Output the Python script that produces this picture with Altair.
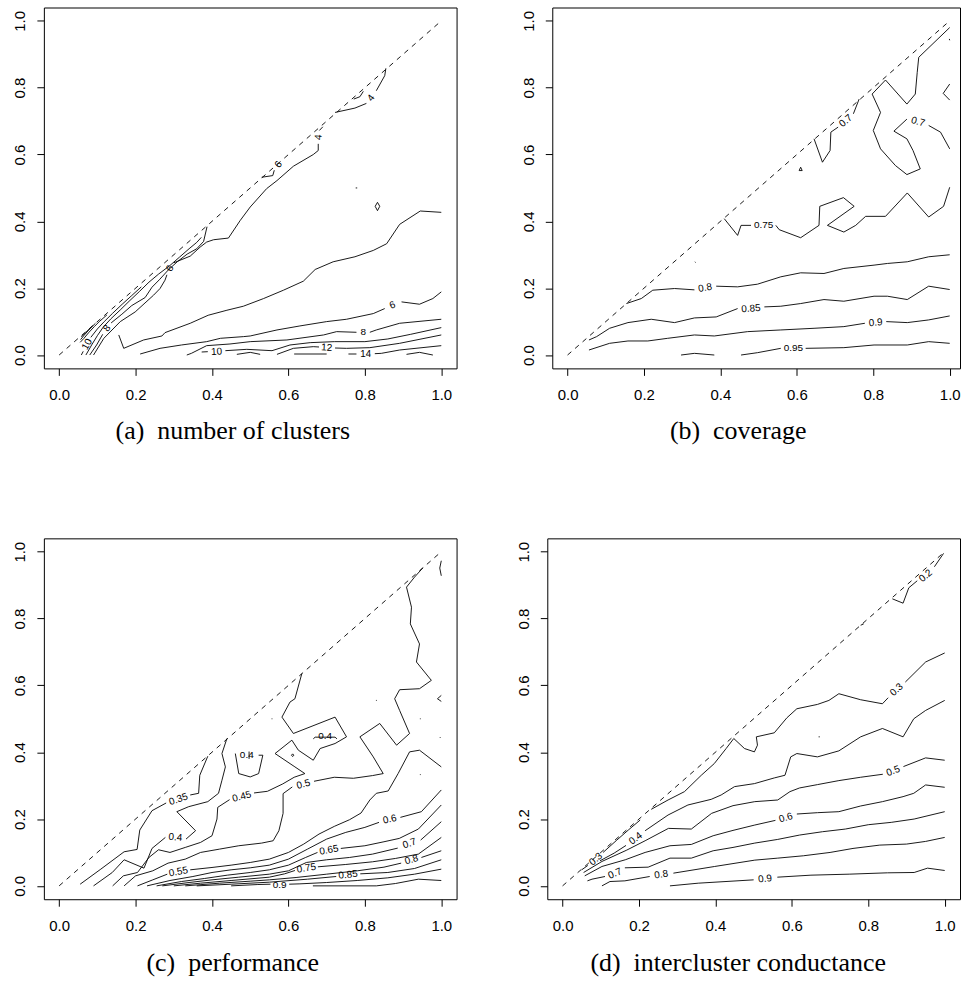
import math
import altair as alt
import pandas as pd

# ---------------- data ----------------
TICKS = [0.0, 0.2, 0.4, 0.6, 0.8, 1.0]

CAPTIONS = ["(a)\u2002number of clusters", "(b)\u2002coverage",
            "(c)\u2002performance", "(d)\u2002intercluster conductance"]

# each contour line: list of (x, y) points; a ("label", x, y) item marks an inline label
A_LINES = [
    [(0.090, 0.0), (0.117, 0.050), (0.160, 0.100), (0.199, 0.129), (0.247, 0.179), (0.264, 0.199),
     (0.277, 0.224), (0.282, 0.240), ("6", 0.290, 0.259), (0.300, 0.276), (0.343, 0.296), (0.369, 0.323),
     (0.386, 0.338), (0.404, 0.345), (0.443, 0.350), (0.474, 0.403), (0.5, 0.443), (0.543, 0.498),
     (0.570, 0.522), (0.613, 0.565), (0.665, 0.600), (0.678, 0.612), (0.678, 0.632), ("4", 0.679, 0.652),
     (0.681, 0.672), (0.690, 0.683)],
    [(0.722, 0.726), (0.774, 0.739), (0.804, 0.753), ("4", 0.816, 0.769), (0.830, 0.791), (0.852, 0.836),
     (0.855, 0.858)],
    [(0.771, 0.766), (0.787, 0.773), (0.796, 0.789)],
    [(0.530, 0.532), (0.559, 0.537), (0.563, 0.553), ("6", 0.574, 0.570)],
    [(0.776, 0.500), (0.780, 0.500)],
    [(0.827, 0.445), (0.833, 0.457), (0.839, 0.445), (0.833, 0.432), (0.827, 0.445)],
    [(0.080, 0.0), (0.098, 0.030), (0.114, 0.062), ("8", 0.125, 0.080), (0.136, 0.096), (0.164, 0.122),
     (0.190, 0.148), (0.225, 0.172), (0.243, 0.203), (0.262, 0.225), (0.286, 0.255), (0.310, 0.280),
     (0.335, 0.302), (0.360, 0.318), (0.378, 0.340), (0.387, 0.384)],
    [(0.070, 0.0), (0.085, 0.030), (0.100, 0.058), (0.115, 0.083), (0.135, 0.108), (0.160, 0.135),
     (0.185, 0.163), (0.210, 0.190), (0.235, 0.218), (0.260, 0.242), (0.290, 0.268), (0.315, 0.293),
     (0.340, 0.318), (0.360, 0.337), (0.372, 0.352)],
    [(0.058, 0.0), (0.063, 0.011), ("10", 0.073, 0.032), (0.083, 0.053), (0.100, 0.078), (0.118, 0.100),
     (0.140, 0.125), (0.165, 0.152), (0.190, 0.178), (0.215, 0.204)],
    [(0.055, 0.038), (0.065, 0.050), (0.078, 0.068), (0.092, 0.085), (0.105, 0.100), (0.125, 0.120)],
    [(0.056, 0.046), (0.066, 0.060), (0.080, 0.078), (0.095, 0.095)],
    [(0.058, 0.054), (0.070, 0.068), (0.085, 0.085)],
    [(0.156, 0.060), (0.169, 0.020), (0.221, 0.045), (0.269, 0.057), (0.277, 0.067), (0.343, 0.095),
     (0.390, 0.119), (0.439, 0.134), (0.482, 0.146), (0.535, 0.169), (0.587, 0.194), (0.639, 0.221),
     (0.670, 0.256), (0.717, 0.279), (0.774, 0.294), (0.822, 0.313), (0.857, 0.333), (0.891, 0.391),
     (0.945, 0.431), (1.0, 0.427)],
    [(0.212, 0.003), (0.264, 0.020), (0.320, 0.030), (0.386, 0.040), (0.422, 0.050), (0.482, 0.055),
     (0.5, 0.057), (0.570, 0.075), (0.630, 0.087), (0.700, 0.100), (0.752, 0.107), (0.822, 0.124),
     (0.852, 0.139), ("6", 0.872, 0.149), (0.896, 0.159), (0.943, 0.152), (0.978, 0.169), (1.0, 0.189)],
    [(0.334, 0.0), (0.346, 0.005), (0.386, 0.028), (0.447, 0.033), (0.5, 0.040), (0.596, 0.045),
     (0.692, 0.060), (0.726, 0.070), (0.778, 0.068), ("8", 0.796, 0.068), (0.813, 0.068), (0.830, 0.075),
     (0.891, 0.095), (1.0, 0.107)],
    [(0.373, 0.009), (0.389, 0.010), ("10", 0.412, 0.010), (0.435, 0.013), (0.491, 0.017), (0.557, 0.013),
     (0.604, 0.030), (0.657, 0.037), (0.720, 0.040), (0.800, 0.040), (0.860, 0.048), (0.920, 0.062),
     (1.0, 0.082)],
    [(0.570, 0.002), (0.613, 0.020), (0.665, 0.025), (0.680, 0.024), ("12", 0.700, 0.022), (0.722, 0.021),
     (0.752, 0.020), (0.813, 0.022), (0.891, 0.035), (1.0, 0.060)],
    [(0.757, 0.003), (0.778, 0.003), ("14", 0.802, 0.003), (0.826, 0.004), (0.843, 0.005), (0.891, 0.015),
     (1.0, 0.028)],
    [(0.465, 0.002), (0.5, 0.008), (0.526, 0.002)],
    [(0.615, 0.003), (0.700, 0.003)],
    [(0.909, 0.002), (0.943, 0.008), (0.978, 0.0)],
]

B_LINES = [
    [(0.297, 0.0), (0.332, 0.005), (0.384, 0.0)],
    [(0.454, 0.0), (0.497, 0.007), (0.558, 0.020), ("0.95", 0.591, 0.020), (0.623, 0.020), (0.723, 0.022),
     (0.802, 0.030), (0.889, 0.030), (0.945, 0.040), (1.0, 0.035)],
    [(0.056, 0.015), (0.110, 0.035), (0.158, 0.042), (0.210, 0.042), (0.262, 0.050), (0.332, 0.060),
     (0.384, 0.057), (0.471, 0.070), (0.558, 0.075), (0.645, 0.080), (0.723, 0.085), (0.778, 0.095),
     ("0.9", 0.806, 0.097), (0.834, 0.100), (0.889, 0.097), (0.945, 0.105), (1.0, 0.117)],
    [(0.056, 0.045), (0.076, 0.055), (0.110, 0.080), (0.158, 0.097), (0.219, 0.107), (0.280, 0.097),
     (0.332, 0.111), (0.389, 0.114), (0.445, 0.139), ("0.85", 0.480, 0.139), (0.515, 0.144),
     (0.558, 0.146), (0.610, 0.154), (0.671, 0.166), (0.723, 0.161), (0.802, 0.176), (0.837, 0.176),
     (0.889, 0.166), (0.945, 0.206), (1.0, 0.196)],
    [(0.154, 0.154), (0.193, 0.169), (0.223, 0.194), (0.280, 0.199), (0.332, 0.195), ("0.8", 0.360, 0.201),
     (0.389, 0.206), (0.445, 0.204), (0.497, 0.212), (0.558, 0.234), (0.610, 0.246), (0.671, 0.244),
     (0.723, 0.259), (0.802, 0.269), (0.837, 0.274), (0.889, 0.279), (0.945, 0.294), (1.0, 0.300)],
    [(0.410, 0.408), (0.445, 0.358), (0.454, 0.388), (0.480, 0.388), ("0.75", 0.513, 0.388), (0.545, 0.388),
     (0.554, 0.375), (0.610, 0.351), (0.658, 0.388), (0.660, 0.445), (0.722, 0.471), (0.750, 0.445),
     (0.680, 0.388), (0.723, 0.368), (0.754, 0.388), (0.780, 0.415), (0.832, 0.415), (0.889, 0.485),
     (0.945, 0.413), (0.984, 0.445), (1.0, 0.502)],
    [(0.645, 0.647), (0.667, 0.577), (0.687, 0.612), (0.689, 0.667), (0.708, 0.682), ("0.7", 0.728, 0.701),
     (0.748, 0.722), (0.763, 0.766)],
    [(0.797, 0.781), (0.832, 0.823), (0.888, 0.751), (0.910, 0.781), (0.915, 0.846), (0.919, 0.891),
     (1.0, 0.980)],
    [(0.797, 0.781), (0.819, 0.726), (0.800, 0.672), (0.819, 0.617), (0.858, 0.567), (0.888, 0.540),
     (0.923, 0.557), (0.904, 0.612), (0.888, 0.647), (0.854, 0.670), (0.888, 0.706), ("0.7", 0.917, 0.698),
     (0.945, 0.687), (0.976, 0.667), (1.0, 0.617)],
    [(1.0, 0.811), (0.983, 0.783), (1.0, 0.763)],
    [(0.606, 0.552), (0.614, 0.552), (0.610, 0.562), (0.606, 0.552)],
    [(0.333, 0.279), (0.335, 0.277)],
    [(0.999, 0.946), (1.0, 0.942)],
]

C_LINES = [
    [(0.055, 0.005), (0.109, 0.050), (0.170, 0.102), (0.204, 0.109), (0.211, 0.167), (0.243, 0.225),
     (0.280, 0.248), ("0.35", 0.312, 0.259), (0.343, 0.272), (0.365, 0.277), (0.368, 0.331), (0.389, 0.388)],
    [(0.090, 0.0), (0.139, 0.040), (0.170, 0.078), (0.222, 0.053), (0.243, 0.112), (0.278, 0.145),
     ("0.4", 0.304, 0.145), (0.332, 0.140), (0.357, 0.165), (0.308, 0.222), (0.339, 0.237), (0.389, 0.252),
     (0.417, 0.277), (0.426, 0.316), (0.435, 0.356), (0.426, 0.396), (0.439, 0.441)],
    [(0.140, 0.0), (0.168, 0.030), (0.205, 0.040), (0.235, 0.085), (0.260, 0.108), (0.290, 0.100),
     (0.330, 0.115), (0.370, 0.130), (0.400, 0.150), (0.413, 0.200), (0.415, 0.235), (0.446, 0.258),
     ("0.45", 0.478, 0.267), (0.510, 0.278), (0.545, 0.283), (0.585, 0.305), (0.615, 0.325), (0.643, 0.336),
     (0.617, 0.356), (0.565, 0.396), (0.609, 0.436), (0.626, 0.406), (0.665, 0.376), (0.683, 0.411),
     (0.722, 0.426), (0.752, 0.446), (0.722, 0.505), (0.613, 0.456), (0.583, 0.505), (0.604, 0.550),
     (0.617, 0.560), (0.635, 0.635)],
    [(0.461, 0.396), (0.470, 0.336), (0.500, 0.326), (0.522, 0.336), (0.533, 0.391), (0.522, 0.391)],
    [("0.4", 0.491, 0.391)],
    [(0.497, 0.380), (0.497, 0.402)],
    [(0.665, 0.440), (0.670, 0.445), (0.722, 0.445), (0.727, 0.440)],
    [("0.4", 0.696, 0.449)],
    [(0.608, 0.391), (0.611, 0.395), (0.614, 0.391), (0.611, 0.387), (0.608, 0.391)],
    [(0.170, 0.0), (0.200, 0.030), (0.245, 0.045), (0.285, 0.068), (0.330, 0.080), (0.370, 0.100),
     (0.420, 0.110), (0.470, 0.120), (0.530, 0.128), (0.560, 0.135), (0.575, 0.165), (0.586, 0.217),
     (0.586, 0.276), (0.610, 0.296), ("0.5", 0.639, 0.304), (0.667, 0.313), (0.720, 0.325), (0.770, 0.322),
     (0.820, 0.330), (0.848, 0.336), (0.822, 0.386), (0.787, 0.446), (0.839, 0.486), (0.883, 0.421),
     (0.917, 0.456), (0.891, 0.525), (0.878, 0.560), (0.891, 0.587), (0.943, 0.590), (0.974, 0.615),
     (0.935, 0.670), (0.943, 0.724), (0.919, 0.784), (0.922, 0.834), (0.909, 0.894), (0.930, 0.924),
     (0.952, 0.952)],
    [(0.205, 0.0), (0.245, 0.018), (0.283, 0.035), ("0.55", 0.312, 0.042), (0.343, 0.048), (0.400, 0.055),
     (0.450, 0.062), (0.500, 0.070), (0.550, 0.080), (0.600, 0.100), (0.640, 0.125), (0.680, 0.155),
     (0.720, 0.178), (0.760, 0.198), (0.790, 0.218), (0.813, 0.257), (0.830, 0.277), (0.861, 0.284),
     (0.887, 0.336), (0.917, 0.401), (0.943, 0.406), (1.0, 0.356)],
    [(0.230, 0.0), (0.290, 0.016), (0.350, 0.028), (0.400, 0.040), (0.450, 0.048), (0.500, 0.054),
     (0.550, 0.062), (0.600, 0.080), (0.650, 0.110), (0.700, 0.140), (0.750, 0.160), (0.800, 0.175),
     (0.837, 0.190), ("0.6", 0.865, 0.199), (0.893, 0.205), (0.948, 0.222), (1.0, 0.287)],
    [(0.255, 0.0), (0.320, 0.013), (0.380, 0.022), (0.440, 0.032), (0.500, 0.040), (0.550, 0.048),
     (0.600, 0.062), (0.645, 0.085), (0.676, 0.100), ("0.65", 0.706, 0.107), (0.737, 0.112), (0.800, 0.120),
     (0.850, 0.132), (0.890, 0.142), (0.940, 0.170), (1.0, 0.242)],
    [(0.270, 0.0), (0.340, 0.010), (0.400, 0.018), (0.470, 0.026), (0.550, 0.035), (0.600, 0.045),
     (0.647, 0.070), (0.700, 0.078), (0.760, 0.085), (0.820, 0.095), (0.886, 0.113), ("0.7", 0.917, 0.127),
     (0.946, 0.137), (1.0, 0.192)],
    [(0.300, 0.0), (0.370, 0.008), (0.450, 0.016), (0.550, 0.026), (0.590, 0.036), (0.617, 0.046),
     ("0.75", 0.647, 0.053), (0.677, 0.057), (0.750, 0.064), (0.820, 0.072), (0.880, 0.082), (0.940, 0.095),
     (1.0, 0.145)],
    [(0.330, 0.0), (0.420, 0.008), (0.500, 0.014), (0.550, 0.018), (0.620, 0.025), (0.700, 0.035),
     (0.780, 0.045), (0.850, 0.056), (0.895, 0.068), ("0.8", 0.922, 0.078), (0.948, 0.085), (1.0, 0.105)],
    [(0.360, 0.0), (0.450, 0.005), (0.550, 0.011), (0.650, 0.020), (0.725, 0.028), ("0.85", 0.756, 0.033),
     (0.788, 0.036), (0.860, 0.040), (0.930, 0.052), (1.0, 0.078)],
    [(0.450, 0.0), (0.520, 0.004), (0.553, 0.005), ("0.9", 0.577, 0.003), (0.602, 0.005), (0.630, 0.006),
     (0.700, 0.010), (0.780, 0.016), (0.860, 0.024), (0.930, 0.035), (1.0, 0.050)],
    [(0.664, 0.0), (0.830, 0.0), (0.880, 0.007), (0.940, 0.020), (1.0, 0.016)],
    [(0.556, 0.500), (0.558, 0.500)],
    [(0.829, 0.555), (0.831, 0.555)],
    [(0.944, 0.500), (0.946, 0.500)],
    [(0.996, 0.444), (0.998, 0.444)],
    [(0.944, 0.333), (0.946, 0.333)],
    [(1.0, 0.570), (0.990, 0.560), (1.0, 0.552)],
    [(1.0, 0.973), (0.996, 0.951), (1.0, 0.928)],
]

D_LINES = [
    [(0.863, 0.859), (0.891, 0.846), (0.906, 0.892), (0.928, 0.913), ("0.2", 0.950, 0.928), (0.973, 0.955),
     (0.997, 0.995)],
    [(0.780, 0.780), (0.788, 0.784)],
    [(0.050, 0.048), (0.066, 0.061), ("0.3", 0.087, 0.080), (0.106, 0.100), (0.142, 0.137), (0.172, 0.167),
     (0.203, 0.197)],
    [(0.232, 0.229), (0.276, 0.257), (0.319, 0.282), (0.363, 0.331), (0.397, 0.366), (0.428, 0.411),
     (0.448, 0.441), (0.476, 0.411), (0.502, 0.401), (0.510, 0.421), (0.507, 0.446), (0.554, 0.458),
     (0.587, 0.503), (0.613, 0.530), (0.667, 0.543), (0.697, 0.555), (0.723, 0.575), (0.780, 0.557),
     (0.837, 0.545), (0.852, 0.563), ("0.3", 0.874, 0.587), (0.897, 0.610), (0.950, 0.670), (1.0, 0.697)],
    [(0.098, 0.075), (0.135, 0.098), (0.166, 0.121), ("0.4", 0.191, 0.142), (0.216, 0.165), (0.276, 0.212),
     (0.328, 0.242), (0.389, 0.259), (0.415, 0.272), (0.450, 0.297), (0.502, 0.306), (0.554, 0.323),
     (0.582, 0.331), (0.597, 0.386), (0.613, 0.396), (0.667, 0.386), (0.723, 0.404), (0.780, 0.446),
     (0.837, 0.471), (0.891, 0.446), (0.919, 0.500), (0.950, 0.525), (1.0, 0.555)],
    [(0.055, 0.040), (0.103, 0.073), (0.168, 0.107), (0.216, 0.135), (0.277, 0.172), (0.337, 0.170),
     (0.390, 0.217), (0.446, 0.240), (0.503, 0.252), (0.563, 0.257), (0.595, 0.282), (0.620, 0.293),
     (0.667, 0.303), (0.723, 0.315), (0.780, 0.325), (0.838, 0.334), ("0.5", 0.865, 0.344), (0.892, 0.357),
     (0.950, 0.383), (1.0, 0.376)],
    [(0.058, 0.030), (0.103, 0.058), (0.164, 0.078), (0.216, 0.100), (0.281, 0.120), (0.337, 0.124),
     (0.394, 0.150), (0.446, 0.166), (0.503, 0.182), (0.557, 0.196), ("0.6", 0.584, 0.204), (0.613, 0.215),
     (0.667, 0.219), (0.723, 0.222), (0.780, 0.239), (0.837, 0.252), (0.891, 0.267), (0.919, 0.277),
     (0.950, 0.302), (1.0, 0.295)],
    [(0.065, 0.015), (0.077, 0.020), (0.111, 0.028), ("0.7", 0.137, 0.037), (0.163, 0.054), (0.224, 0.056),
     (0.281, 0.083), (0.337, 0.083), (0.394, 0.105), (0.446, 0.115), (0.503, 0.128), (0.563, 0.139),
     (0.620, 0.152), (0.680, 0.162), (0.740, 0.170), (0.800, 0.183), (0.860, 0.190), (0.920, 0.200),
     (1.0, 0.222)],
    [(0.103, 0.0), (0.124, 0.013), (0.163, 0.015), (0.228, 0.028), ("0.8", 0.258, 0.034), (0.290, 0.038),
     (0.398, 0.058), (0.503, 0.077), (0.563, 0.083), (0.630, 0.090), (0.700, 0.100), (0.760, 0.112),
     (0.830, 0.122), (0.900, 0.125), (0.950, 0.133), (1.0, 0.145)],
    [(0.281, 0.0), (0.355, 0.008), (0.500, 0.018), ("0.9", 0.530, 0.021), (0.562, 0.026), (0.650, 0.032),
     (0.750, 0.035), (0.850, 0.039), (0.920, 0.040), (0.955, 0.053), (1.0, 0.046)],
    [(0.670, 0.446), (0.673, 0.446)],
]

DIAG = pd.DataFrame({"x": [0.0, 1.0], "y": [0.0, 1.0]})

# ---------------- layout / style ----------------
PLOT_H = 362
YDOM = [-0.04, 1.04]
KY = PLOT_H / (YDOM[1] - YDOM[0])
KX = 414 / 1.08
LABEL_FONT = "Liberation Sans"
CAP_FONT = "Liberation Serif"
CAP_SIZE = 26


def build(lines):
    seg_rows, lab_rows = [], []
    for li, line in enumerate(lines):
        seg, order = 0, 0
        for k, it in enumerate(line):
            if isinstance(it[0], str):
                prev = line[k - 1] if k > 0 and not isinstance(line[k - 1][0], str) else None
                nxt = line[k + 1] if k + 1 < len(line) and not isinstance(line[k + 1][0], str) else None
                if prev is None and nxt is None:
                    ang = 0.0
                else:
                    p1 = prev if prev is not None else it[1:]
                    p2 = nxt if nxt is not None else it[1:]
                    dx = (p2[0] - p1[0]) * KX
                    dy = (p2[1] - p1[1]) * KY
                    ang = -math.degrees(math.atan2(dy, dx))
                    while ang > 90:
                        ang -= 180
                    while ang <= -90:
                        ang += 180
                lab_rows.append({"t": it[0], "x": it[1], "y": it[2], "a": ang % 360})
                seg += 1
                order = 0
            else:
                seg_rows.append({"seg": f"{li}-{seg}", "i": order, "x": it[0], "y": it[1]})
                order += 1
    return pd.DataFrame(seg_rows), pd.DataFrame(lab_rows, columns=["t", "x", "y", "a"])


def panel(lines, caption, width, xdom, cap_x, cap_y):
    segs, labs = build(lines)
    xs = alt.Scale(domain=xdom, nice=False, zero=False)
    ys = alt.Scale(domain=YDOM, nice=False, zero=False)
    xax = alt.Axis(values=TICKS, format=".1f", title=caption, titleX=cap_x, titleY=cap_y,
                   titleAlign="center", titleBaseline="middle", titleFont=CAP_FONT,
                   titleFontSize=CAP_SIZE, titleFontWeight="normal", titleColor="black",
                   labelPadding=12, labelFlush=False, labelOverlap=False)
    yax = alt.Axis(values=TICKS, format=".1f", title=None, labelAngle=270, labelAlign="center",
                   labelBaseline="alphabetic", labelPadding=12, labelFlush=False, labelOverlap=False,
                   minExtent=38, maxExtent=38)

    def enc(ch):
        return ch.encode(x=alt.X("x:Q", scale=xs, axis=xax), y=alt.Y("y:Q", scale=ys, axis=yax))

    diag = enc(alt.Chart(DIAG).mark_line(color="black", strokeWidth=0.9, strokeDash=[5, 5]))
    cont = enc(alt.Chart(segs).mark_line(color="black", strokeWidth=0.9)).encode(
        detail="seg:N", order="i:Q")
    text = enc(alt.Chart(labs).mark_text(font=LABEL_FONT, fontSize=10, color="black")).encode(
        text="t:N", angle=alt.Angle("a:Q", scale=None))
    return alt.layer(diag, cont, text).properties(width=width, height=PLOT_H)


pa = panel(A_LINES, CAPTIONS[0], 414, [-0.04, 1.04], 189, 62)
pb = panel(B_LINES, CAPTIONS[1], 409, [-0.04, -0.04 + 409 / KX], 186, 62)
pc = panel(C_LINES, CAPTIONS[2], 414, [-0.04, 1.04], 189, 63)
pd_ = panel(D_LINES, CAPTIONS[3], 414, [-0.04, 1.04], 191, 63)

row1 = alt.hconcat(pa, pb, spacing=56)
row2 = alt.hconcat(pc, pd_, spacing=51)

chart = alt.vconcat(row1, row2, spacing=93.5).properties(
    padding={"left": 5, "top": 5, "right": 0, "bottom": 5}
).configure_view(stroke="black", strokeWidth=1).configure_axis(
    grid=False, domain=False, ticks=True, tickSize=7, tickColor="black", tickWidth=1,
    labelFont=LABEL_FONT, labelFontSize=15, labelColor="black"
)

chart.save("out.html", embed_options={"renderer": "svg", "actions": False})
